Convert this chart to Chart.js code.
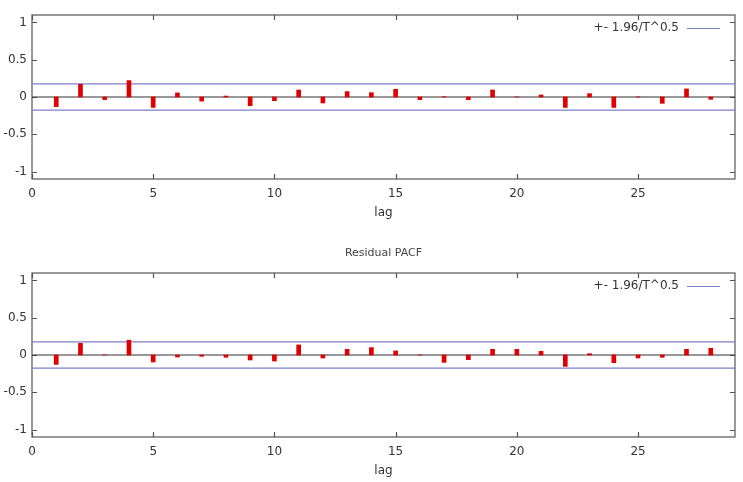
<!DOCTYPE html>
<html>
<head>
<meta charset="utf-8">
<script src="https://cdn.jsdelivr.net/npm/chart.js@4.4.1/dist/chart.umd.min.js"></script>
<style>
  html, body { margin: 0; padding: 0; background: #fff; overflow: hidden; }
  body { width: 743px; height: 482px; position: relative; font-family: "DejaVu Sans", sans-serif; }
  .panel { position: absolute; left: 0; width: 743px; height: 258px; }
  #acfBox { top: -18px; }
  #pacfBox { top: 240px; }
</style>
</head>
<body>
<div class="panel" id="acfBox"><canvas id="acfChart"></canvas></div>
<div class="panel" id="pacfBox"><canvas id="pacfChart"></canvas></div>
<script>
// Lags and correlation values
const lags = [1, 2, 3, 4, 5, 6, 7, 8, 9, 10, 11, 12, 13, 14, 15, 16, 17, 18, 19, 20, 21, 22, 23, 24, 25, 26, 27, 28];
const acfValues = [-0.13, 0.17, -0.035, 0.22, -0.14, 0.055, -0.055, 0.013, -0.117, -0.05, 0.094, -0.08, 0.072, 0.058,
                   0.103, -0.036, 0.004, -0.036, 0.094, 0.002, 0.027, -0.14, 0.045, -0.14, 0.002, -0.085, 0.108, -0.031];
const pacfValues = [-0.126, 0.157, 0.002, 0.198, -0.094, -0.027, -0.018, -0.031, -0.067, -0.081, 0.135, -0.04, 0.076, 0.099,
                    0.054, 0.002, -0.099, -0.063, 0.076, 0.076, 0.049, -0.153, 0.018, -0.103, -0.04, -0.031, 0.076, 0.09];
const confBand = 0.175;
const xTicks = [0, 5, 10, 15, 20, 25];
const yTicks = [-1, -0.5, 0, 0.5, 1];
const xRange = [0, 29];
const yRange = [-1.1, 1.1];
const legendLabel = '+- 1.96/T^0.5';

const frameColor = '#555';
const textColor = '#333';
const bandColor = '#7f7fc6';

// Box, inward ticks, title and the little legend, gnuplot style
const framePlugin = {
  id: 'frame',
  beforeDatasetsDraw(chart) {
    const { ctx, chartArea: a, scales } = chart;
    ctx.save();
    ctx.strokeStyle = frameColor;
    ctx.lineWidth = 1.2;
    ctx.strokeRect(a.left, a.top, a.right - a.left, a.bottom - a.top);
    ctx.beginPath();
    xTicks.forEach(v => {
      const px = Math.round(scales.x.getPixelForValue(v)) + 0.5;
      ctx.moveTo(px, a.bottom); ctx.lineTo(px, a.bottom - 5);
      ctx.moveTo(px, a.top); ctx.lineTo(px, a.top + 5);
    });
    yTicks.forEach(v => {
      const py = Math.round(scales.y.getPixelForValue(v)) + 0.5;
      ctx.moveTo(a.left, py); ctx.lineTo(a.left + 5, py);
      ctx.moveTo(a.right, py); ctx.lineTo(a.right - 5, py);
    });
    ctx.stroke();
    ctx.restore();
  },
  afterDraw(chart, args, opts) {
    const { ctx, chartArea: a } = chart;
    ctx.save();
    ctx.fillStyle = '#444';
    ctx.font = '11px "DejaVu Sans"';
    ctx.textAlign = 'center';
    ctx.textBaseline = 'middle';
    ctx.fillText(opts.title, (a.left + a.right) / 2, a.top - 20);

    ctx.fillStyle = textColor;
    ctx.font = '12px "DejaVu Sans"';
    ctx.textAlign = 'right';
    ctx.fillText(legendLabel, a.right - 56, a.top + 13);
    ctx.strokeStyle = bandColor;
    ctx.lineWidth = 1.2;
    ctx.beginPath();
    ctx.moveTo(a.right - 48, a.top + 13.5);
    ctx.lineTo(a.right - 15, a.top + 13.5);
    ctx.stroke();
    ctx.restore();
  }
};

function makeChart(canvasId, title, values) {
  const ctx = document.getElementById(canvasId).getContext('2d');
  return new Chart(ctx, {
    type: 'bar',
    data: {
      datasets: [{
        type: 'line',
        data: [{ x: xRange[0], y: 0 }, { x: xRange[1], y: 0 }],
        borderColor: '#333',
        borderWidth: 1.2,
        pointRadius: 0,
        order: 3
      }, {
        type: 'line',
        data: [{ x: xRange[0], y: confBand }, { x: xRange[1], y: confBand }],
        borderColor: bandColor,
        borderWidth: 1.2,
        pointRadius: 0,
        order: 2
      }, {
        type: 'line',
        data: [{ x: xRange[0], y: -confBand }, { x: xRange[1], y: -confBand }],
        borderColor: bandColor,
        borderWidth: 1.2,
        pointRadius: 0,
        order: 2
      }, {
        type: 'bar',
        data: lags.map((l, i) => ({ x: l, y: values[i] })),
        backgroundColor: '#e00000',
        barThickness: 4,
        order: 1
      }]
    },
    options: {
      responsive: true,
      maintainAspectRatio: false,
      animation: false,
      devicePixelRatio: 1,
      layout: { padding: { top: 33, right: 8, left: 0, bottom: 0 } },
      plugins: {
        legend: { display: false },
        tooltip: { enabled: false },
        frame: { title: title }
      },
      scales: {
        x: {
          type: 'linear',
          offset: false,
          min: xRange[0],
          max: xRange[1],
          afterBuildTicks: s => { s.ticks = xTicks.map(v => ({ value: v })); },
          afterFit: s => { s.height = 61; },
          grid: { display: false, drawTicks: false, offset: false },
          border: { display: false },
          ticks: { color: textColor, font: { family: 'DejaVu Sans', size: 12 }, padding: 8, callback: v => String(v) },
          title: {
            display: true,
            text: 'lag',
            color: textColor,
            font: { family: 'DejaVu Sans', size: 12 },
            padding: { top: 0, bottom: 20 }
          }
        },
        y: {
          min: yRange[0],
          max: yRange[1],
          afterBuildTicks: s => { s.ticks = yTicks.map(v => ({ value: v })); },
          afterFit: s => { s.width = 32; },
          grid: { display: false, drawTicks: false },
          border: { display: false },
          ticks: { color: textColor, font: { family: 'DejaVu Sans', size: 12 }, padding: 5, callback: v => String(v) }
        }
      }
    },
    plugins: [framePlugin]
  });
}

makeChart('acfChart', 'Residual ACF', acfValues);
makeChart('pacfChart', 'Residual PACF', pacfValues);
</script>
</body>
</html>
